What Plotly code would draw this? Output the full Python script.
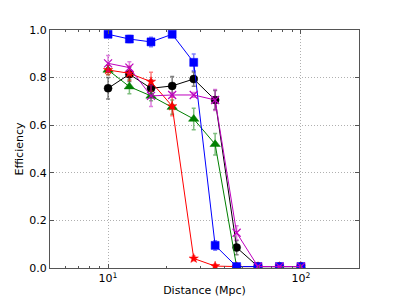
import plotly.graph_objects as go

distance = [10, 12.9, 16.7, 21.5, 27.8, 35.9, 46.4, 59.9, 77.4, 100]

eff_blue = [0.982, 0.962, 0.950, 0.982, 0.864, 0.095, 0.006, 0.006, 0.006, 0.006]
err_blue = [0.012, 0.015, 0.020, 0.010, 0.035, 0.020, 0.004, 0.004, 0.004, 0.004]

eff_black = [0.755, 0.814, 0.755, 0.765, 0.794, 0.706, 0.086, 0.006, 0.006, 0.006]
err_black = [0.045, 0.030, 0.035, 0.040, 0.030, 0.040, 0.030, 0.004, 0.004, 0.004]

eff_red = [0.832, 0.818, 0.783, 0.680, 0.040, 0.008, 0.006, 0.006, 0.006, 0.006]
err_red = [0.020, 0.030, 0.040, 0.040, 0.010, 0.008, 0.004, 0.004, 0.004, 0.004]

eff_green = [0.832, 0.762, 0.723, 0.676, 0.626, 0.520, 0.006, 0.006, 0.006, 0.006]
err_green = [0.020, 0.030, 0.020, 0.030, 0.045, 0.045, 0.004, 0.004, 0.004, 0.004]

eff_mag = [0.860, 0.842, 0.723, 0.727, 0.727, 0.706, 0.148, 0.006, 0.006, 0.006]
err_mag = [0.033, 0.025, 0.044, 0.010, 0.010, 0.044, 0.030, 0.004, 0.004, 0.004]

series = [
    ("black", eff_black, err_black, "#000000", "rgba(0,0,0,0.5)", "circle", 8),
    ("green", eff_green, err_green, "#007f00", "rgba(0,128,0,0.5)", "triangle-up", 9),
    ("red", eff_red, err_red, "#ff0000", "rgba(255,0,0,0.5)", "star", 7),
    ("blue", eff_blue, err_blue, "#0000ff", "rgba(0,0,255,0.5)", "square", 8),
    ("magenta", eff_mag, err_mag, "#bf00bf", "rgba(191,0,191,0.5)", "x-thin", 8),
]

fig = go.Figure()
for name, ys, es, col, ecol, sym, sz in series:
    if sym == "x-thin":
        marker = dict(symbol=sym, size=sz, color=col, line=dict(color=col, width=1.2))
    else:
        marker = dict(symbol=sym, size=sz, color=col, line=dict(color="#000000" if name == "black" else col, width=0.5))
    fig.add_trace(go.Scatter(
        x=distance, y=ys, mode="lines+markers", name=name,
        line=dict(color=col, width=1),
        marker=marker,
        error_y=dict(type="data", array=es, visible=True, color=ecol, thickness=1.5, width=2),
        showlegend=False,
    ))

axis_common = dict(
    showline=True, linecolor="#555555", linewidth=1, mirror="allticks",
    ticks="inside", tickcolor="#555555", ticklen=4,
    zeroline=False, automargin=False,
    showgrid=True, gridcolor="#b0b0b0", griddash="1px,2px", gridwidth=1,
    tickfont=dict(family="DejaVu Sans", size=11, color="#000000"),
)

fig.update_xaxes(
    type="log", range=[0.699, 2.301],
    tickvals=[10, 100], ticktext=["10<sup>1</sup>", "10<sup>2</sup>"],
    minor=dict(ticks="inside", ticklen=2, tickcolor="#555555",
               tickvals=[5, 6, 7, 8, 9, 20, 30, 40, 50, 60, 70, 80, 90, 200], showgrid=False),
    title=dict(text="Distance (Mpc)", font=dict(family="DejaVu Sans", size=11, color="#000000"), standoff=2),
    **axis_common,
)
fig.update_yaxes(
    range=[0, 1], tickvals=[0, 0.2, 0.4, 0.6, 0.8, 1.0], tickformat=".1f",
    title=dict(text="Efficiency", font=dict(family="DejaVu Sans", size=11, color="#000000"), standoff=3),
    **axis_common,
)

fig.update_layout(
    width=399, height=299,
    margin=dict(l=50, r=40, t=30, b=31),
    paper_bgcolor="white", plot_bgcolor="white",
    font=dict(family="DejaVu Sans", size=11, color="#000000"),
)

fig.write_html("out.html", config={"displayModeBar": False},
               post_script="document.body.style.margin='0';")
